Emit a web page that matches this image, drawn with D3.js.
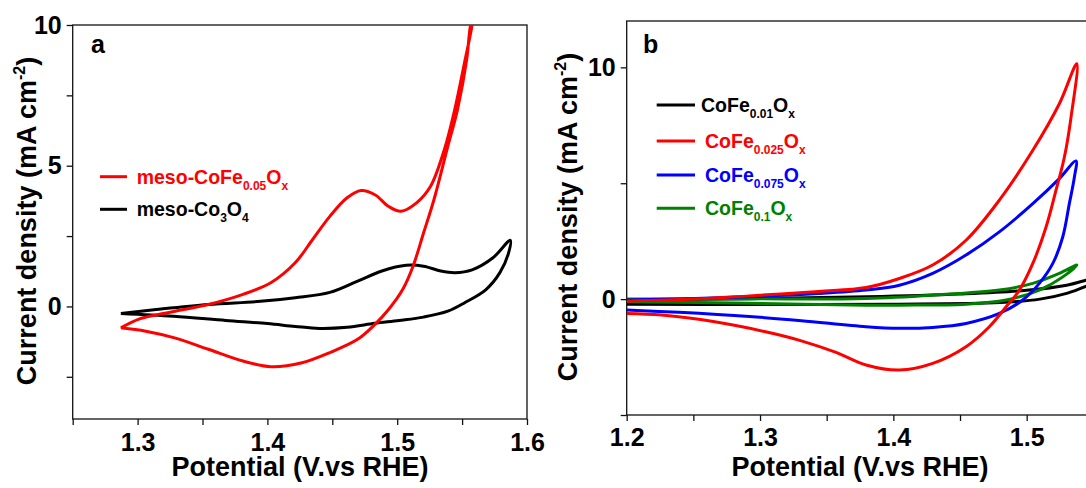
<!DOCTYPE html>
<html>
<head>
<meta charset="utf-8">
<script src="https://cdn.jsdelivr.net/npm/d3@7"></script>
<style>
  body { margin: 0; background: #fff; }
  svg { display: block; }
  text { font-family: "Liberation Sans", Arial, sans-serif; font-weight: bold; }
</style>
</head>
<body>
<script>
// panel a: meso samples, [potential V, current mA/cm2]
var mesoCoFe005 = [
  [1.2871,-0.76],[1.301,-0.45],[1.3144,-0.3],[1.3278,-0.18],[1.3545,0.07],[1.3812,0.43],
  [1.4026,0.84],[1.4214,1.55],[1.4347,2.37],[1.4481,3.2],[1.4614,3.86],[1.4721,4.12],
  [1.4828,3.97],[1.4935,3.55],[1.5029,3.38],[1.5149,3.68],[1.5256,4.26],[1.5363,5.57],
  [1.5443,6.99],[1.5523,8.76],[1.5577,10.0],[1.562,11.5],[1.57,14],
  [1.564,11.5],[1.5565,10],[1.5535,8.76],[1.5465,7.0],[1.5385,5.6],[1.5283,3.79],
  [1.5203,2.61],[1.5122,1.43],[1.5042,0.6],[1.4935,-0.1],[1.4828,-0.64],[1.4695,-1.17],
  [1.4481,-1.64],[1.4267,-2.0],[1.4026,-2.14],[1.3812,-1.94],[1.3545,-1.52],[1.3278,-1.11],
  [1.3063,-0.88],[1.2871,-0.76]
];
var mesoCo3O4 = [
  [1.2871,-0.25],[1.3144,-0.11],[1.3545,0.07],[1.3946,0.18],[1.4214,0.31],[1.4481,0.5],
  [1.4695,0.9],[1.4882,1.26],[1.5069,1.46],[1.5203,1.43],[1.5336,1.26],[1.5443,1.2],
  [1.5577,1.3],[1.5738,1.73],[1.5871,2.35],
  [1.5858,1.9],[1.5791,1.2],[1.5684,0.6],[1.5523,0.14],[1.539,-0.17],[1.5203,-0.38],
  [1.5015,-0.5],[1.4828,-0.6],[1.4614,-0.74],[1.44,-0.78],[1.4214,-0.71],[1.4,-0.61],
  [1.3679,-0.5],[1.3278,-0.35],[1.2871,-0.25]
];

// panel b: Fe content series
var coFe001 = [
  [1.2,-0.04],[1.3,0.03],[1.38,0.1],[1.45,0.22],[1.5,0.38],[1.53,0.6],[1.5445,0.82],
  [1.56,1.1],[1.57,1.3],
  [1.56,0.85],[1.5445,0.55],[1.53,0.25],[1.51,0.0],[1.48,-0.15],[1.4,-0.22],
  [1.3,-0.23],[1.2,-0.22]
];
var coFe0025 = [
  [1.2,-0.09],[1.25,0.0],[1.292,0.14],[1.344,0.33],[1.3795,0.5],[1.4045,0.89],[1.4295,1.47],
  [1.4545,2.54],[1.4795,4.27],[1.5046,6.42],[1.5245,8.43],[1.5376,10.16],
  [1.5333,7.86],[1.5283,6.13],[1.522,4.7],[1.5146,3.12],[1.5046,1.54],[1.4945,0.39],
  [1.4846,-0.33],[1.472,-1.19],[1.4545,-2.05],[1.4295,-2.77],[1.4045,-3.06],[1.3795,-2.84],
  [1.357,-2.3],[1.331,-1.8],[1.305,-1.42],[1.266,-0.98],[1.226,-0.69],[1.2,-0.62]
];
var coFe0075 = [
  [1.2,-0.04],[1.292,0.1],[1.344,0.24],[1.3795,0.39],[1.4045,0.6],[1.4295,1.11],[1.4545,1.9],
  [1.4795,2.9],[1.5046,4.12],[1.5245,5.2],[1.537,5.96],
  [1.5358,5.27],[1.532,4.12],[1.5271,2.69],[1.5196,1.54],[1.5095,0.68],[1.497,-0.04],
  [1.4795,-0.62],[1.4545,-1.05],[1.4295,-1.22],[1.4045,-1.26],[1.3795,-1.19],[1.331,-0.93],
  [1.292,-0.75],[1.239,-0.57],[1.2,-0.47]
];
var coFe01 = [
  [1.2,0],[1.292,0.01],[1.3795,0.03],[1.4295,0.17],[1.4795,0.39],[1.5046,0.68],[1.5245,1.11],
  [1.5376,1.47],
  [1.5271,0.96],[1.5095,0.39],[1.4846,-0.04],[1.4545,-0.22],[1.4045,-0.26],[1.3795,-0.26],
  [1.292,-0.18],[1.2,-0.11]
];

// tick values
var aXMajor = [1.3, 1.4, 1.5, 1.6], aXMinor = [1.25, 1.35, 1.45, 1.55];
var aYMajor = [0, 5, 10], aYMinor = [-2.5, 2.5, 7.5];
var bXMajor = [1.2, 1.3, 1.4, 1.5], bXMinor = [1.25, 1.35, 1.45];
var bYMajor = [0, 10], bYMinor = [-5, 5];

var svg = d3.select('body').append('svg')
    .attr('width', 1086)
    .attr('height', 488);

var line = d3.line().curve(d3.curveCatmullRom.alpha(0.5));

// subscript parts: 1 = shift down, -1 = shift back up
function parts(list) {
  var out = [];
  var down = false;
  list.forEach(function(p) {
    if (p[1] === 1) { out.push([p[0], down ? 0 : 1, true]); down = true; }
    else { out.push([p[0], down ? -1 : 0, false]); down = false; }
  });
  return out;
}

function drawPanel(opt) {
  var x = d3.scaleLinear().domain(opt.xDomain).range([opt.left, opt.right]);
  var y = d3.scaleLinear().domain(opt.yDomain).range([opt.bottom, opt.top]);
  var g = svg.append('g');

  g.append('clipPath')
      .attr('id', 'clip-' + opt.name)
    .append('rect')
      .attr('x', opt.left)
      .attr('y', opt.top)
      .attr('width', opt.right - opt.left)
      .attr('height', opt.bottom - opt.top);

  //x axis
  g.append('g')
      .attr('transform', 'translate(0,' + opt.bottom + ')')
      .call(d3.axisBottom(x).tickValues(opt.xMajor).tickSize(6).tickSizeOuter(0)
        .tickPadding(opt.xPad).tickFormat(d3.format('.1f')));
  g.append('g')
      .attr('transform', 'translate(0,' + opt.bottom + ')')
      .call(d3.axisBottom(x).tickValues(opt.xMinor).tickSize(6).tickSizeOuter(0).tickFormat(''));

  //y axis
  g.append('g')
      .attr('transform', 'translate(' + opt.left + ',0)')
      .call(d3.axisLeft(y).tickValues(opt.yMajor).tickSize(6).tickSizeOuter(0)
        .tickPadding(5).tickFormat(d3.format('d')));
  g.append('g')
      .attr('transform', 'translate(' + opt.left + ',0)')
      .call(d3.axisLeft(y).tickValues(opt.yMinor).tickSize(6).tickSizeOuter(0).tickFormat(''));

  g.selectAll('.domain').remove();
  g.selectAll('.tick line').attr('stroke', '#111').attr('stroke-width', 1.3);
  g.selectAll('.tick text')
      .attr('fill', '#000')
      .style('font-size', '25px')
      .style('font-family', '"Liberation Sans", Arial, sans-serif')
      .style('font-weight', 'bold');

  //frame
  g.append('rect')
      .attr('x', opt.left)
      .attr('y', opt.top)
      .attr('width', opt.right - opt.left)
      .attr('height', opt.bottom - opt.top)
      .attr('fill', 'none')
      .attr('stroke', '#111')
      .attr('stroke-width', 1.3);

  //curves
  var curves = g.append('g').attr('clip-path', 'url(#clip-' + opt.name + ')');
  opt.series.forEach(function(s) {
    curves.append('path')
        .attr('d', line(s.data.map(function(d) { return [x(d[0]), y(d[1])]; })))
        .attr('fill', 'none')
        .attr('stroke', s.color)
        .attr('stroke-width', 3)
        .attr('stroke-linejoin', 'round');
  });

  //axis titles
  g.append('text')
      .attr('x', opt.xLabelX)
      .attr('y', 476)
      .attr('text-anchor', 'middle')
      .style('font-size', '27px')
      .text('Potential (V.vs RHE)');

  var yl = g.append('text')
      .attr('transform', 'translate(' + opt.yLabelX + ',' + opt.yLabelY + ') rotate(-90)')
      .attr('text-anchor', 'middle')
      .style('font-size', '27px');
  yl.append('tspan').text('Current density (mA cm');
  yl.append('tspan').attr('dy', -11).style('font-size', '16px').text('-2');
  yl.append('tspan').attr('dy', 11).text(')');

  //panel letter
  g.append('text')
      .attr('x', opt.letterX)
      .attr('y', 53)
      .style('font-size', '25px')
      .text(opt.name);

  //legend
  opt.legend.forEach(function(l, i) {
    var ly = opt.legendY[i];
    g.append('line')
        .attr('x1', opt.legendX1)
        .attr('x2', opt.legendX2)
        .attr('y1', ly)
        .attr('y2', ly)
        .attr('stroke', l.color)
        .attr('stroke-width', 3);
    var t = g.append('text')
        .attr('x', l.tx)
        .attr('y', ly + 7)
        .attr('fill', l.color)
        .style('font-size', '19.5px');
    l.parts.forEach(function(p) {
      t.append('tspan')
          .attr('dy', p[1] * 6)
          .style('font-size', p[2] ? '12px' : '19.5px')
          .text(p[0]);
    });
  });
}

drawPanel({
  name: 'a',
  xDomain: [1.25, 1.6], yDomain: [-4, 10],
  left: 72.7, right: 527, top: 25, bottom: 419,
  xMajor: aXMajor, xMinor: aXMinor, yMajor: aYMajor, yMinor: aYMinor,
  xPad: 8,
  xLabelX: 300, yLabelX: 36, yLabelY: 221, letterX: 91,
  series: [
    { data: mesoCo3O4, color: '#000000' },
    { data: mesoCoFe005, color: '#ff0000' }
  ],
  legendX1: 100, legendX2: 127, legendY: [176.7, 209.3],
  legend: [
    { color: '#ff0000', tx: 136.7, parts: parts([['meso-CoFe', 0], ['0.05', 1], ['O', 0], ['x', 1]]) },
    { color: '#000000', tx: 136.7, parts: parts([['meso-Co', 0], ['3', 1], ['O', 0], ['4', 1]]) }
  ]
});

drawPanel({
  name: 'b',
  xDomain: [1.2, 1.6], yDomain: [-5, 12],
  left: 626.7, right: 1160, top: 21, bottom: 415,
  xMajor: bXMajor, xMinor: bXMinor, yMajor: bYMajor, yMinor: bYMinor,
  xPad: 7,
  xLabelX: 860, yLabelX: 577, yLabelY: 217, letterX: 643,
  series: [
    { data: coFe001, color: '#000000' },
    { data: coFe01, color: '#008000' },
    { data: coFe0075, color: '#0000ff' },
    { data: coFe0025, color: '#ff0000' }
  ],
  legendX1: 656.7, legendX2: 695, legendY: [105, 141, 175, 208.3],
  legend: [
    { color: '#000000', tx: 701, parts: parts([['CoFe', 0], ['0.01', 1], ['O', 0], ['x', 1]]) },
    { color: '#ff0000', tx: 705, parts: parts([['CoFe', 0], ['0.025', 1], ['O', 0], ['x', 1]]) },
    { color: '#0000ff', tx: 705, parts: parts([['CoFe', 0], ['0.075', 1], ['O', 0], ['x', 1]]) },
    { color: '#008000', tx: 705, parts: parts([['CoFe', 0], ['0.1', 1], ['O', 0], ['x', 1]]) }
  ]
});
</script>
</body>
</html>
